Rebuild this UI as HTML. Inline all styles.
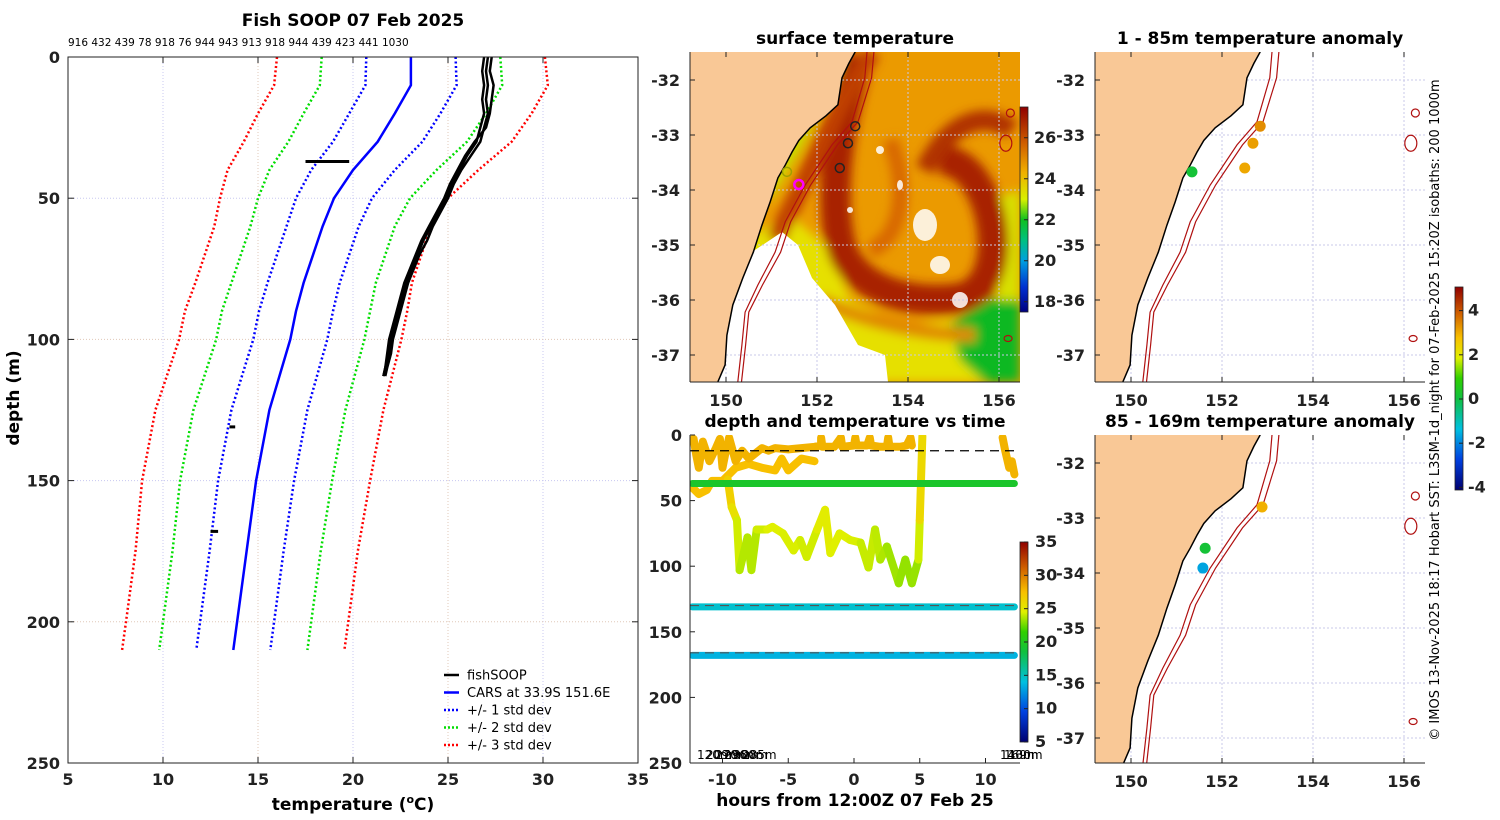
<!DOCTYPE html>
<html><head><meta charset="utf-8"><style>
html,body{margin:0;padding:0;background:#fff;}
svg{display:block;font-family:"DejaVu Sans","Liberation Sans",sans-serif;}
.tk{font-size:16px;font-weight:bold;fill:#222;}
.tt{font-size:17px;font-weight:bold;fill:#000;}
</style></head><body>
<svg id="fig" width="1500" height="820" viewBox="0 0 1500 820" xmlns="http://www.w3.org/2000/svg">
<defs>
<linearGradient id="sstcb" x1="0" y1="1" x2="0" y2="0">
<stop offset="0" stop-color="#000080"/><stop offset="0.12" stop-color="#0030d0"/><stop offset="0.25" stop-color="#00a0e0"/><stop offset="0.35" stop-color="#00c080"/><stop offset="0.45" stop-color="#10c020"/><stop offset="0.55" stop-color="#d8f000"/><stop offset="0.68" stop-color="#f0b000"/><stop offset="0.82" stop-color="#d06000"/><stop offset="1" stop-color="#900000"/>
</linearGradient>
<linearGradient id="jetcb" x1="0" y1="1" x2="0" y2="0">
<stop offset="0" stop-color="#000070"/><stop offset="0.15" stop-color="#0040e0"/><stop offset="0.3" stop-color="#00c0e0"/><stop offset="0.45" stop-color="#10c040"/><stop offset="0.55" stop-color="#30d000"/><stop offset="0.65" stop-color="#e0f000"/><stop offset="0.75" stop-color="#f8c000"/><stop offset="0.87" stop-color="#d06000"/><stop offset="1" stop-color="#900000"/>
</linearGradient>
<filter id="blur" x="-5%" y="-5%" width="110%" height="110%"><feGaussianBlur stdDeviation="5"/></filter>
<clipPath id="clipM1"><rect x="690" y="52" width="330" height="330"/></clipPath>
<clipPath id="clipM2"><rect x="1095" y="52" width="330" height="330"/></clipPath>
<clipPath id="clipM3"><rect x="1095" y="435" width="330" height="328"/></clipPath>
<clipPath id="clipDT"><rect x="690" y="435" width="330" height="328"/></clipPath>
</defs>
<g id="root"></g>
</svg>
<script>
// ---------- DATA: profile panel ----------
const carsDepth = [0,10,20,30,40,50,60,70,80,90,100,125,150,175,200,210];
const carsMean  = [23.05,23.05,22.2,21.3,20.0,19.0,18.4,17.9,17.4,17.0,16.7,15.6,14.9,14.4,13.9,13.7];
const carsStd   = [2.35,2.4,2.4,2.35,2.2,2.0,1.9,1.9,1.9,1.95,1.95,2.0,2.0,1.95,1.95,1.95];
const fishDepth = [0,5,10,15,20,25,30,35,40,45,50,55,60,65,70,75,80,85,90,95,100,105,110,113];
const fishTemp  = [27.1,27.0,27.1,27.0,27.1,26.9,26.7,26.2,25.7,25.3,25.0,24.6,24.2,23.9,23.5,23.2,22.9,22.7,22.5,22.3,22.1,22.0,21.8,21.7];
const fishTemp2 = [27.3,27.2,27.4,27.3,27.2,27.0,26.4,25.9,25.5,25.1,24.8,24.4,24.0,23.6,23.3,23.0,22.7,22.5,22.3,22.1,21.9,21.8,21.7,21.6];
const fishTemp3 = [26.9,26.8,26.9,26.8,26.9,26.7,26.5,26.0,25.6,25.2,24.9,24.5,24.1,23.7,23.4,23.1,22.8,22.6,22.4,22.2,22.0,21.9,21.7,21.6];
const blobDepth = [37,37,131,131,168,168];
const blobTemp  = [17.5,19.8,13.5,13.8,12.5,12.9];
const xTicks = [5,10,15,20,25,30,35];
const yTicks = [0,50,100,150,200,250];
const headerIds = "916 432 439 78 918 76 944 943 913 918 944 439 423 441 1030";
// ---------- DATA: depth-time panel ----------
const surfH = [-12.2,-12,-11.8,-11.5,-11,-10.5,-10.2,-10,-9.8,-9.5,-9,-8.5,-8,-7,-6.5,-6,-5,-4,-3,-2.5,-2.5,-2.4,-1.5,-1,-0.9,0,0.1,0.2,1,1.2,1.3,2,2.5,2.6,2.7,3.5,4,4.3,4.4];
const surfD = [3,15,25,5,20,10,3,25,15,2,20,12,18,10,12,10,11,10,9,8,2,9,9,2,9,8,2,8,8,2,8,9,9,2,9,9,8,2,8];
const surf2H = [-12.3,-11.8,-11.2,-10.8,-10,-9,-8,-7,-6,-5.5,-5,-4,-3];
const surf2D = [40,45,42,35,35,25,22,25,27,18,27,18,20];
const surf3H = [11.3,11.5,11.8,12,12.2];
const surf3D = [2,12,25,20,30];
const deepH = [-9.6,-9.3,-8.9,-8.7,-8.1,-7.8,-7.4,-6.6,-6.2,-5.4,-4.6,-4.1,-3.6,-2.8,-2.2,-1.8,-1.1,-0.3,0.5,1.1,1.6,2.0,2.5,3.4,3.9,4.4,4.9,5.0,5.2];
const deepD = [34,55,65,103,78,103,72,72,70,75,88,80,93,72,57,90,75,80,82,101,72,95,85,113,95,113,95,65,1];
const deepT = [27,26,25,23.5,24,23.5,24,24.5,24.5,24.5,24.3,24.5,24,24.5,25,24.5,24.5,24.5,24.3,23.8,24.3,23.5,23.8,23,23.4,23,23.5,25,27];
const lineH = [-12.3,12.2];
const sensorDepth = [37,131,168];
const sensorTemp  = [19.5,14.5,13.5];
const surfTemp = 28;
const dashDepth = [12,130,166];
const dtXTicks = [-10,-5,0,5,10];
const dtYTicks = [0,50,100,150,200,250];
const dtCbTicks = [5,10,15,20,25,30,35];
// ---------- DATA: maps ----------
const coastLon = [152.84,152.7,152.55,152.46,152.2,151.85,151.6,151.45,151.3,151.14,150.97,150.79,150.6,150.37,150.15,150.02,149.98,149.82];
const coastLat = [-31.49,-31.7,-31.96,-32.45,-32.65,-32.87,-33.1,-33.31,-33.55,-33.78,-34.22,-34.64,-35.13,-35.6,-36.09,-36.64,-37.18,-37.49];
const iso200Lon = [153.1,153.05,152.77,152.33,151.74,151.3,151.08,150.7,150.42,150.35,150.26];
const iso200Lat = [-31.49,-31.96,-32.76,-33.18,-33.91,-34.58,-35.13,-35.73,-36.22,-36.82,-37.49];
const iso1000Lon = [153.25,153.2,152.9,152.45,151.86,151.42,151.2,150.8,150.5,150.43,150.34];
const lonTicks = [150,152,154,156];
const latTicks = [-32,-33,-34,-35,-36,-37];
const shallowLon = [151.34,152.84,152.68,152.5];
const shallowLat = [-33.67,-32.84,-33.15,-33.6];
const shallowAnom = [0.2,3.4,3.2,3.1];
const deepLon = [152.88,151.63,151.58];
const deepLat = [-32.8,-33.55,-33.91];
const deepAnom = [3.0,0.2,-1.6];
const sstCbTicks = [18,20,22,24,26];
const anomCbTicks = [-4,-2,0,2,4];

const NS='http://www.w3.org/2000/svg';
const root=document.getElementById('root');
function mk(tag,attrs,parent){const e=document.createElementNS(NS,tag);for(const k in attrs)e.setAttribute(k,attrs[k]);(parent||root).appendChild(e);return e;}
function txt(s,attrs,parent){const e=mk('text',attrs,parent);e.textContent=s;return e;}
function jet(v){
  const stops=[[0,[0,0,112]],[0.15,[0,64,224]],[0.3,[0,192,224]],[0.45,[16,192,64]],[0.55,[48,208,0]],[0.65,[224,240,0]],[0.75,[248,192,0]],[0.87,[208,96,0]],[1,[144,0,0]]];
  v=Math.max(0,Math.min(1,v));
  for(let i=1;i<stops.length;i++){if(v<=stops[i][0]){const a=stops[i-1],b=stops[i];const t=(v-a[0])/(b[0]-a[0]);const c=a[1].map((x,j)=>Math.round(x+(b[1][j]-x)*t));return `rgb(${c[0]},${c[1]},${c[2]})`;}}
  return 'rgb(144,0,0)';
}

// ================= PROFILE PANEL =================
const P={x0:68,x1:638,y0:57,y1:763};
const px=t=>P.x0+(t-5)/30*(P.x1-P.x0);
const py=d=>P.y0+d/250*(P.y1-P.y0);
const gP=mk('g',{});  
xTicks.slice(1,-1).forEach((t,i)=>{const l=mk('line',{x1:px(t),x2:px(t),y1:P.y0,y2:P.y1,stroke:i%2?'#e0c8b8':'#c8c8f0','stroke-width':1,'stroke-dasharray':'1,2'},gP);});
yTicks.slice(1,-1).forEach((d,i)=>{const l=mk('line',{x1:P.x0,x2:P.x1,y1:py(d),y2:py(d),stroke:i%2?'#e0c8b8':'#c8c8f0','stroke-width':1,'stroke-dasharray':'1,2'},gP);});
function poly(ts,ds,attrs,name){const pts=ts.map((t,i)=>px(t).toFixed(1)+','+py(ds[i]).toFixed(1)).join(' ');const e=mk('polyline',Object.assign({points:pts,fill:'none'},attrs),gP);return e;}
[[3,'#ff0000','red'],[2,'#00dd00','green'],[1,'#0000ff','blue']].forEach(([k,c,n])=>{
  poly(carsMean.map((m,i)=>m-k*carsStd[i]),carsDepth,{stroke:c,'stroke-width':2.5,'stroke-dasharray':'2,2.5'},'std'+k+'-lower-line');
  poly(carsMean.map((m,i)=>m+k*carsStd[i]),carsDepth,{stroke:c,'stroke-width':2.5,'stroke-dasharray':'2,2.5'},'std'+k+'-upper-line');
});
poly(carsMean,carsDepth,{stroke:'#0000ff','stroke-width':2.5},'cars-mean-line');
poly(fishTemp,fishDepth,{stroke:'#000','stroke-width':2.5},'fishsoop-profile-1');
poly(fishTemp2,fishDepth,{stroke:'#000','stroke-width':2.5},'fishsoop-profile-2');
poly(fishTemp3,fishDepth,{stroke:'#000','stroke-width':2.5},'fishsoop-profile-3');
for(let i=0;i<blobDepth.length;i+=2){poly([blobTemp[i],blobTemp[i+1]],[blobDepth[i],blobDepth[i+1]],{stroke:'#000','stroke-width':3},'fishsoop-sensor-blob');}
const fr=mk('rect',{x:P.x0,y:P.y0,width:P.x1-P.x0,height:P.y1-P.y0,fill:'none',stroke:'#222','stroke-width':1},gP);
xTicks.forEach(t=>{mk('line',{x1:px(t),x2:px(t),y1:P.y1,y2:P.y1-6,stroke:'#222'},gP);mk('line',{x1:px(t),x2:px(t),y1:P.y0,y2:P.y0+6,stroke:'#222'},gP);const e=txt(String(t),{x:px(t),y:P.y1+22,'text-anchor':'middle',class:'tk'},gP);});
yTicks.forEach(d=>{mk('line',{x1:P.x0,x2:P.x0+6,y1:py(d),y2:py(d),stroke:'#222'},gP);mk('line',{x1:P.x1,x2:P.x1-6,y1:py(d),y2:py(d),stroke:'#222'},gP);const e=txt(String(d),{x:P.x0-8,y:py(d)+6,'text-anchor':'end',class:'tk'},gP);});
let e;
e=txt('Fish SOOP 07 Feb 2025',{x:353,y:26,'text-anchor':'middle',class:'tt','font-size':18.5},gP);
e=txt(headerIds,{x:68,y:46,'font-size':10.5,fill:'#000'},gP);
e=mk('text',{x:353,y:810,'text-anchor':'middle',class:'tt'},gP);e.innerHTML='temperature (<tspan font-size="11" dy="-7">o</tspan><tspan dy="7">C)</tspan>';
e=txt('depth (m)',{x:19,y:398,'text-anchor':'middle',class:'tt',transform:'rotate(-90 19 398)'},gP);
const leg=[['fishSOOP','#000',''],['CARS at 33.9S 151.6E','#0000ff',''],['+/- 1 std dev','#0000ff','2,2'],['+/- 2 std dev','#00dd00','2,2'],['+/- 3 std dev','#ff0000','2,2']];
leg.forEach((l,i)=>{const y=675+i*17.5;const g=mk('g',{},gP);mk('line',{x1:444,x2:459,y1:y,y2:y,stroke:l[1],'stroke-width':2.5,'stroke-dasharray':l[2]||'none'},g);txt(l[0],{x:467,y:y+4.5,'font-size':13,fill:'#000'},g);});

// ================= MAPS =================
function makeMap(ox,oy,clip,name){
  const lx=lon=>ox+(lon-150)*45.5, ly=lat=>oy-(lat+32)*55;
  const g=mk('g',{});  
  const inner=mk('g',{'clip-path':'url(#'+clip+')'},g);
  return {g,inner,lx,ly};
}
function drawMapCommon(m,ax){
  const {inner,lx,ly}=m;
  lonTicks.forEach(l=>{const ln=mk('line',{x1:lx(l),x2:lx(l),y1:ax.y0,y2:ax.y1,stroke:'#c8c8e8','stroke-dasharray':'2,2'},inner);});
  latTicks.forEach(l=>{const ln=mk('line',{x1:ax.x0,x2:ax.x1,y1:ly(l),y2:ly(l),stroke:'#c8c8e8','stroke-dasharray':'2,2'},inner);});
}
function land(m,ax){
  const {inner,lx,ly}=m;
  const pts=coastLon.map((l,i)=>lx(l).toFixed(1)+','+ly(coastLat[i]).toFixed(1));
  pts.push(ax.x0+','+ax.y1,ax.x0+','+ax.y0);
  const p=mk('polygon',{points:pts.join(' '),fill:'#f9c896',stroke:'none'},inner);
  const c=mk('polyline',{points:coastLon.map((l,i)=>lx(l).toFixed(1)+','+ly(coastLat[i]).toFixed(1)).join(' '),fill:'none',stroke:'#000','stroke-width':1.5},inner);
}
function isobaths(m){
  const {inner,lx,ly}=m;
  const a=mk('polyline',{points:iso200Lon.map((l,i)=>lx(l).toFixed(1)+','+ly(iso200Lat[i]).toFixed(1)).join(' '),fill:'none',stroke:'#b01010','stroke-width':1.2},inner);
  const b=mk('polyline',{points:iso1000Lon.map((l,i)=>lx(l).toFixed(1)+','+ly(iso200Lat[i]).toFixed(1)).join(' '),fill:'none',stroke:'#b01010','stroke-width':1.2},inner);
  [[156.25,-32.6,4,4],[156.15,-33.15,6,8],[156.2,-36.7,4,3]].forEach(s=>{const c=mk('ellipse',{cx:lx(s[0]),cy:ly(s[1]),rx:s[2],ry:s[3],fill:'none',stroke:'#b01010','stroke-width':1.2},inner);});
}
function mapAxes(m,ax,lonLabels){
  const {g,lx,ly}=m;
  mk('line',{x1:ax.x0,x2:ax.x1,y1:ax.y1,y2:ax.y1,stroke:'#222'},g);
  mk('line',{x1:ax.x0,x2:ax.x0,y1:ax.y0,y2:ax.y1,stroke:'#222'},g);
  lonTicks.forEach(l=>{mk('line',{x1:lx(l),x2:lx(l),y1:ax.y1,y2:ax.y1-5,stroke:'#222'},g);mk('line',{x1:lx(l),x2:lx(l),y1:ax.y0,y2:ax.y0+5,stroke:'#222'},g);if(lonLabels){const t=txt(String(l),{x:lx(l),y:ax.y1+24,'text-anchor':'middle',class:'tk'},g);}});
  latTicks.forEach(l=>{const y=ly(l);if(y<ax.y0||y>ax.y1)return;mk('line',{x1:ax.x0,x2:ax.x0+5,y1:y,y2:y,stroke:'#222'},g);const t=txt(String(l),{x:ax.x0-10,y:y+6,'text-anchor':'end',class:'tk'},g);});
}

// ----- SST map -----
const A1={x0:690,y0:52,x1:1020,y1:382};
const m1=makeMap(726,80,'clipM1','sst-map');
mk('rect',{x:690,y:52,width:330,height:330,fill:'#eb9a00'},m1.inner);
const sst=mk('g',{filter:'url(#blur)'},m1.inner);  
mk('polygon',{points:'740,240 790,215 830,250 850,300 900,325 960,320 990,300 1020,290 1020,382 700,382 720,300',fill:'#e6e000'},sst);
mk('polygon',{points:'950,325 990,300 1020,290 1020,382 985,382 960,360',fill:'#10b820'},sst);
mk('polygon',{points:'990,200 1020,190 1020,300 998,300',fill:'#d8e000'},sst);
mk('polygon',{points:'770,200 800,150 830,90 850,52 838,52 800,120 760,190',fill:'#c8e000'},sst);
mk('path',{d:'M860,56 C838,120 828,200 842,250 C858,290 910,305 960,298 C995,290 1000,240 985,200 C975,175 960,160 940,160',fill:'none',stroke:'#a82000','stroke-width':30},sst);
mk('path',{d:'M872,52 L838,110 L800,190 L775,240',fill:'none',stroke:'#c04000','stroke-width':18},sst);
mk('path',{d:'M925,170 C950,120 985,110 1012,130',fill:'none',stroke:'#b03000','stroke-width':20},sst);
mk('path',{d:'M820,300 C870,325 930,335 975,335',fill:'none',stroke:'#e08800','stroke-width':14},sst);
mk('path',{d:'M890,140 C910,190 900,240 870,250',fill:'none',stroke:'#d86800','stroke-width':16},sst);
mk('polygon',{points:'782,232 798,245 812,278 835,305 858,345 885,355 888,382 700,382 740,260',fill:'#ffffff'},m1.inner);
[[925,225,12,16],[940,265,10,9],[960,300,8,8],[880,150,4,4],[900,185,3,5],[850,210,3,3]].forEach(s=>{const c=mk('ellipse',{cx:s[0],cy:s[1],rx:s[2],ry:s[3],fill:'#fff',opacity:0.85},m1.inner);});
drawMapCommon(m1,A1);
land(m1,A1); isobaths(m1);
shallowLon.forEach((l,i)=>{const c=mk('circle',{cx:m1.lx(l),cy:m1.ly(shallowLat[i]),r:4.5,fill:'none',stroke:i==0?'#a0a000':'#222','stroke-width':1.5},m1.g);});
e=mk('circle',{cx:m1.lx(151.6),cy:m1.ly(-33.9),r:4.5,fill:'none',stroke:'#ff00ff','stroke-width':2.5},m1.g);
mapAxes(m1,A1,true);
e=txt('surface temperature',{x:855,y:44,'text-anchor':'middle',class:'tt'},m1.g);
const cb1=mk('g',{});
mk('rect',{x:1020,y:107,width:8,height:205,fill:'url(#sstcb)',stroke:'#222','stroke-width':0.8},cb1);
const sY=v=>312-(v-17.5)/(27.5-17.5)*205;
sstCbTicks.forEach(v=>{mk('line',{x1:1024,x2:1028,y1:sY(v),y2:sY(v),stroke:'#222'},cb1);txt(String(v),{x:1034,y:sY(v)+5,class:'tk','font-size':14},cb1);});

// ----- Anomaly maps -----
function anomMap(oy,clip,A,lons,lats,anoms,title,name){
  const m=makeMap(1131,oy,clip,name);
  drawMapCommon(m,A); land(m,A); isobaths(m);
  lons.forEach((l,i)=>{const c=mk('circle',{cx:m.lx(l),cy:m.ly(lats[i]),r:5.5,fill:jet((anoms[i]+4.05)/9.15)},m.g);});
  mapAxes(m,A,true);
  const t=txt(title,{x:1260,y:A.y0-8,'text-anchor':'middle',class:'tt'},m.g);
}
anomMap(80,'clipM2',{x0:1095,y0:52,x1:1425,y1:382},shallowLon,shallowLat,shallowAnom,'1 - 85m temperature anomaly','shallow-anomaly-map');
anomMap(463,'clipM3',{x0:1095,y0:435,x1:1425,y1:763},deepLon,deepLat,deepAnom,'85 - 169m temperature anomaly','deep-anomaly-map');
const cb3=mk('g',{});
mk('rect',{x:1455,y:287,width:8,height:203,fill:'url(#jetcb)',stroke:'#222','stroke-width':0.8},cb3);
const aY=v=>399-v*22.1;
anomCbTicks.forEach(v=>{mk('line',{x1:1459,x2:1463,y1:aY(v),y2:aY(v),stroke:'#222'},cb3);txt(String(v),{x:1468,y:aY(v)+5,class:'tk','font-size':14},cb3);});
e=txt('© IMOS 13-Nov-2025 18:17 Hobart SST: L3SM-1d_night for 07-Feb-2025 15:20Z isobaths: 200  1000m',{x:1439,y:410,'text-anchor':'middle','font-size':13,fill:'#000',transform:'rotate(-90 1439 410)'});


// ================= DEPTH-TIME PANEL =================
const D={x0:690,y0:435,x1:1020,y1:763};
const dx=h=>854+h*13.15;
const dy=d=>D.y0+d/250*(D.y1-D.y0);
const gD=mk('g',{});
const gDi=mk('g',{'clip-path':'url(#clipDT)'},gD);
const tc=t=>jet((t-5)/30);
function dtLine(hs,ds,col,name,w){const e=mk('polyline',{points:hs.map((h,i)=>dx(h).toFixed(1)+','+dy(ds[i]).toFixed(1)).join(' '),fill:'none',stroke:col,'stroke-width':w||8,'stroke-linejoin':'round','stroke-linecap':'round'},gDi);}
dtLine(surf2H,surf2D,tc(27.5),'surface-sensor-trace-2');
dtLine(surfH,surfD,tc(surfTemp),'surface-sensor-trace');
dtLine(surf3H,surf3D,tc(surfTemp),'surface-sensor-trace-3');
for(let i=1;i<deepH.length;i++){const e=mk('line',{x1:dx(deepH[i-1]),y1:dy(deepD[i-1]),x2:dx(deepH[i]),y2:dy(deepD[i]),stroke:tc((deepT[i]+deepT[i-1])/2),'stroke-width':8,'stroke-linecap':'round'},gDi);}
sensorDepth.forEach((d,i)=>dtLine(lineH,[d,d],tc(sensorTemp[i]),'fixed-sensor-trace',7));
dashDepth.forEach((d,i)=>{const e=mk('line',{x1:D.x0,x2:D.x1,y1:dy(d),y2:dy(d),stroke:i?'#555':'#000','stroke-width':1.2,'stroke-dasharray':'9,6'},gDi);});
mk('line',{x1:D.x0,x2:D.x1,y1:D.y1,y2:D.y1,stroke:'#222'},gD);
mk('line',{x1:D.x0,x2:D.x0,y1:D.y0,y2:D.y1,stroke:'#222'},gD);
dtXTicks.forEach(h=>{mk('line',{x1:dx(h),x2:dx(h),y1:D.y1,y2:D.y1-5,stroke:'#222'},gD);const t=txt(String(h),{x:dx(h),y:D.y1+22,'text-anchor':'middle',class:'tk'},gD);});
dtYTicks.forEach(d=>{mk('line',{x1:D.x0,x2:D.x0+5,y1:dy(d),y2:dy(d),stroke:'#222'},gD);const t=txt(String(d),{x:D.x0-8,y:dy(d)+6,'text-anchor':'end',class:'tk','font-size':17},gD);});
['120m','209m','270m','296m','300m','285m'].forEach((s,i)=>{const t=txt(s,{x:697+i*9,y:759,'font-size':12,fill:'#000'},gD);});
['140m','169m','130m'].forEach((s,i)=>{const t=txt(s,{x:1000+i*4,y:759,'font-size':12,fill:'#000'},gD);});
e=txt('depth and temperature vs time',{x:855,y:427,'text-anchor':'middle',class:'tt'},gD);
e=txt('hours from 12:00Z 07 Feb 25',{x:855,y:806,'text-anchor':'middle',class:'tt'},gD);
const cb2=mk('g',{});
mk('rect',{x:1020,y:542,width:8,height:200,fill:'url(#jetcb)',stroke:'#222','stroke-width':0.8},cb2);
const cY=v=>742-(v-5)/30*200;
dtCbTicks.forEach(v=>{mk('line',{x1:1024,x2:1028,y1:cY(v),y2:cY(v),stroke:'#222'},cb2);txt(String(v),{x:1035,y:cY(v)+5,class:'tk','font-size':14},cb2);});
</script>
</body></html>
